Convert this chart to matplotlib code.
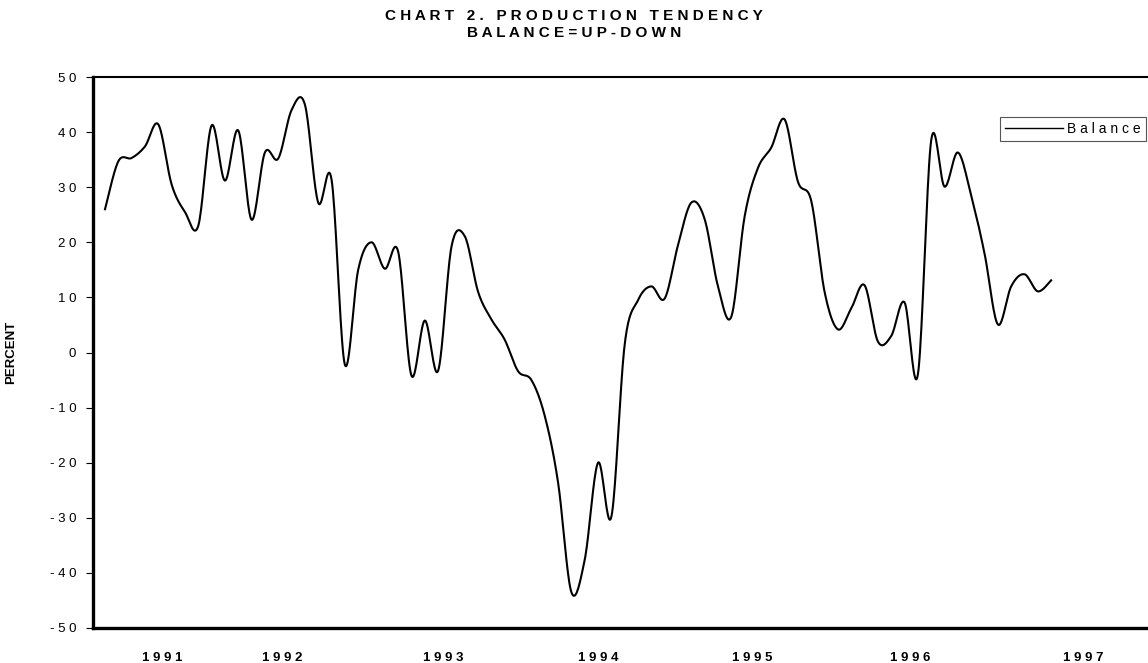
import numpy as np
import matplotlib
matplotlib.use("Agg")
from matplotlib import pyplot as plt

plt.rcParams['font.family'] = ['Liberation Sans', 'DejaVu Sans']

# monthly balance (up - down), percent
balance = [26, 34.7, 35.3, 37.4, 41.4, 30.5, 25.5, 23, 41.2, 31.2,
           40.3, 24.1, 36.3, 35.2, 44, 45, 27.2, 31.4, -2.2, 15,
           20, 15.2, 18.3, -4.2, 5.8, -3.3, 19.2, 21.1, 11, 6,
           2.3, -3.4, -5, -11.5, -23.6, -43.5, -37.6, -20, -29.8, 1.5,
           9.5, 12, 9.8, 19.5, 27.2, 24.2, 12, 6.5, 24.7, 33.5,
           37.2, 42.3, 31, 27.5, 11, 4.2, 8, 12.2, 2, 3,
           9.1, -4, 38.5, 30.1, 36.3, 28.5, 18, 5.1, 12, 14.2,
           11.1, 13.1]
years = ['1991', '1992', '1993', '1994', '1995', '1996', '1997']
year_pos = [4.3, 13.3, 25.4, 37.0, 48.6, 60.4, 73.4]
y_ticks = [-50, -40, -30, -20, -10, 0, 10, 20, 30, 40, 50]


def spaced(s):
    return ' '.join(s)


def smooth(x, y, n=20):
    # excel-like smoothed line (catmull-rom bezier)
    p = np.column_stack([x, y]).astype(float)
    out = []
    t = np.linspace(0, 1, n)[:, None]
    for i in range(len(p) - 1):
        p0 = p[i - 1] if i > 0 else p[i]
        p1 = p[i]
        p2 = p[i + 1]
        p3 = p[i + 2] if i + 2 < len(p) else p[i + 1]
        c1 = p1 + (p2 - p0) / 6
        c2 = p2 - (p3 - p1) / 6
        seg = ((1 - t) ** 3) * p1 + 3 * ((1 - t) ** 2) * t * c1 + 3 * (1 - t) * t ** 2 * c2 + t ** 3 * p2
        out.append(seg if i == 0 else seg[1:])
    out = np.vstack(out)
    return out[:, 0], out[:, 1]


fig = plt.figure(figsize=(11.48, 6.63), dpi=100)
ax = fig.add_axes([93 / 1148, 1 - 628 / 663, 1.005 - 93 / 1148, (628 - 77) / 663])

months = np.arange(len(balance))
sx, sy = smooth(months, balance)
ax.plot(sx, sy, color='black', lw=1.5, label=spaced('Balance'))

ax.set_xlim(-0.9, 78.7)
ax.set_ylim(-50, 50)

ax.set_yticks(y_ticks)
ax.set_yticklabels([spaced(str(v)) for v in y_ticks], fontsize=9.5)
ax.set_xticks(year_pos)
ax.set_xticklabels([spaced(y) for y in years], fontsize=9.5, fontweight='bold')
ax.tick_params(axis='y', direction='out', length=5, width=0.8, pad=7, colors='black')
ax.tick_params(axis='x', length=0, pad=17)

ax.spines['left'].set_linewidth(2.4)
ax.spines['bottom'].set_linewidth(2.4)
ax.spines['top'].set_linewidth(1.5)
ax.spines['right'].set_visible(False)

ax.set_ylabel('PERCENT', fontsize=9.5, fontweight='bold')
ax.yaxis.set_label_coords(-0.072, 0.5)

fig.text(0.5, 1 - 16 / 663,
         spaced('CHART') + '   ' + spaced('2.') + '   ' + spaced('PRODUCTION') + '   ' + spaced('TENDENCY'),
         ha='center', va='center', fontsize=11, fontweight='bold')
fig.text(0.5, 1 - 33 / 663, spaced('BALANCE=UP-DOWN'),
         ha='center', va='center', fontsize=11, fontweight='bold')

leg = ax.legend(loc='upper left', bbox_to_anchor=(1000 / 1148, 1 - 117 / 663),
                bbox_transform=fig.transFigure, fontsize=10, fancybox=False,
                handlelength=4.2, handletextpad=0.3, borderpad=0.35,
                borderaxespad=0, framealpha=1)
leg.get_frame().set_edgecolor('#555555')
leg.get_frame().set_linewidth(0.8)
leg.get_lines()[0].set_linewidth(1.0)

fig.savefig('out.png', dpi=100)
